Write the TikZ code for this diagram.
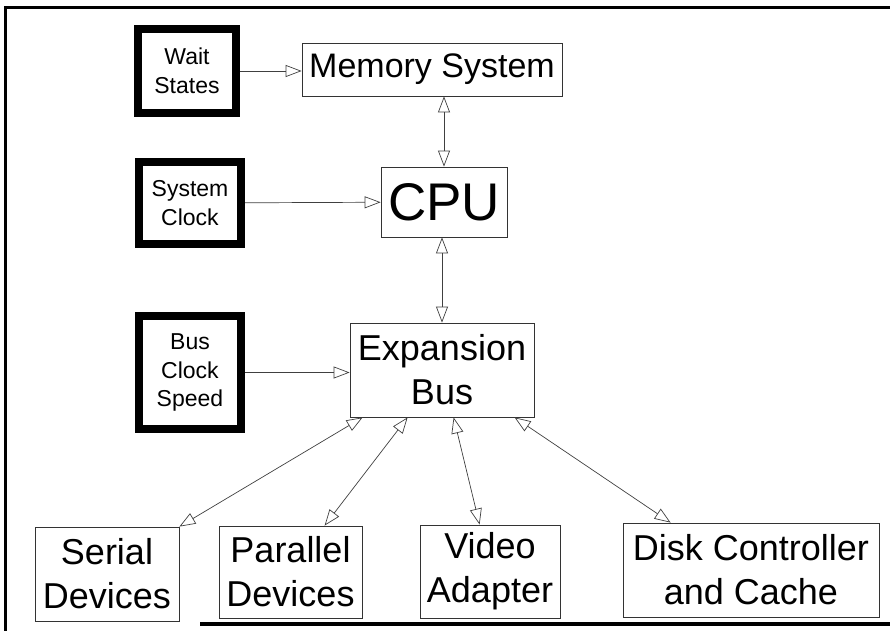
\documentclass[tikz,border=0pt]{standalone}
\usepackage{fontspec}
\setmainfont{Liberation Sans}
\usetikzlibrary{arrows.meta}

\begin{document}
\begin{tikzpicture}[x=1pt, y=-1pt,
    unit/.style={draw=black!80, line width=0.8pt, inner sep=0pt, align=center,
                 font=\fontsize{36}{44}\selectfont},
    setting/.style={draw, line width=8pt, inner sep=0pt, align=center,
                 minimum width=98pt, font=\fontsize{23}{28.5}\selectfont},
    feed/.style={draw=black!75, line width=0.7pt, -{Triangle[open, length=16pt, width=12pt]}},
    bus/.style={draw=black!75, line width=0.7pt,
                {Triangle[open, length=16pt, width=12pt]}-{Triangle[open, length=16pt, width=12pt]}}]
    \useasboundingbox (0,0) rectangle (890,631);

    % frame
    \draw[line width=3pt] (890,8) -- (5,8) -- (5,631);
    \draw[line width=4pt] (200,624) -- (890,624);

    % settings on the left
    \node[setting, minimum height=84pt] (wait) at (187,71) {Wait\\States};
    \node[setting, minimum width=102pt, minimum height=82pt] (clock) at (190,203) {System\\Clock};
    \node[setting, minimum width=102pt, minimum height=113pt] (busclk) at (190,372.5) {Bus\\Clock\\Speed};

    % main units
    \node[unit, minimum width=260pt, minimum height=53pt, font=\fontsize{34}{40}\selectfont] (mem) at (432,69.5) {Memory System};
    \node[unit, minimum width=126pt, minimum height=70pt, font=\fontsize{53}{60}\selectfont] (cpu) at (444,202) {CPU};
    \node[unit, minimum width=184pt, minimum height=94pt] (exp) at (442,370) {Expansion\\Bus};

    % devices on the bus
    \node[unit, minimum width=144pt, minimum height=94pt] (serial) at (107,574) {Serial\\Devices};
    \node[unit, minimum width=143pt, minimum height=92pt] (par) at (290.5,572) {Parallel\\Devices};
    \node[unit, minimum width=140pt, minimum height=93pt] (video) at (490,571.5) {Video\\Adapter};
    \node[unit, minimum width=256pt, minimum height=94pt] (disk) at (751,570) {Disk Controller\\and Cache};

    \draw[feed] (wait) -- (mem.west |- wait);
    \draw[feed] (clock) -- (cpu);
    \draw[feed] (busclk) -- (exp.west |- busclk);

    \draw[bus] (cpu.north) -- (cpu.north |- mem.south);
    \draw[bus] (exp.north) -- (exp.north |- cpu.south);

    \draw[bus] ([xshift=13pt]exp.south west) -- (serial.north east);
    \draw[bus] ([xshift=58pt]exp.south west) -- ([xshift=106pt]par.north west);
    \draw[bus] ([xshift=104pt]exp.south west) -- ([xshift=60pt]video.north west);
    \draw[bus] ([xshift=165pt]exp.south west) -- ([xshift=48pt]disk.north west);
\end{tikzpicture}
\end{document}
